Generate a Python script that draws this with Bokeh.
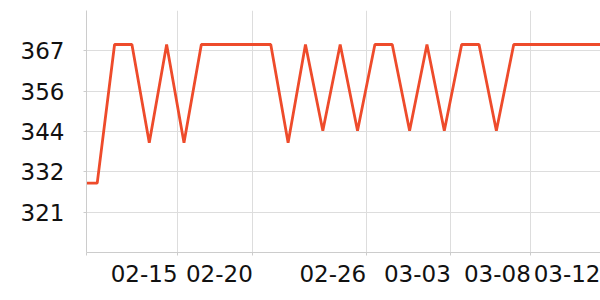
import pandas as pd
from bokeh.plotting import figure
from bokeh.models import Range1d, FixedTicker, DatetimeAxis
from bokeh.embed import file_html
from bokeh.resources import INLINE

# ---- data ----
dates = [
    "2023-02-10", "2023-02-11", "2023-02-12", "2023-02-13", "2023-02-14",
    "2023-02-15", "2023-02-16", "2023-02-17", "2023-02-18", "2023-02-19",
    "2023-02-20", "2023-02-21", "2023-02-22", "2023-02-23", "2023-02-24",
    "2023-02-25", "2023-02-26", "2023-02-27", "2023-02-28", "2023-03-01",
    "2023-03-02", "2023-03-03", "2023-03-04", "2023-03-05", "2023-03-06",
    "2023-03-07", "2023-03-08", "2023-03-09", "2023-03-10", "2023-03-11",
    "2023-03-12",
]
values = [
    329.3, 329.3, 368.8, 368.8, 340.8, 368.8, 340.8, 368.8, 368.8, 368.8,
    368.8, 368.8, 340.8, 368.8, 344.2, 368.8, 344.2, 368.8, 368.8, 344.2,
    368.8, 344.2, 368.8, 368.8, 344.2, 368.8, 368.8, 368.8, 368.8, 368.8,
    368.8,
]
x_tick_times = [
    "2023-02-10 09:11", "2023-02-15 15:03", "2023-02-19 23:11",
    "2023-02-26 12:00", "2023-03-03 08:58", "2023-03-07 23:37",
    "2023-03-12 00:00",
]
x_tick_labels = ["", "02-15", "02-20", "02-26", "03-03", "03-08", "03-12"]
y_ticks = [321.0, 332.5, 344.0, 355.5, 367.0]
y_tick_labels = ["321", "332", "344", "356", "367"]
x_start, x_end = "2023-02-10 09:11", "2023-03-12 00:00"
y_start, y_end = 309.5, 378.5

# ---- build ----
def ms(s):
    return float(pd.Timestamp(s).value // 10**6)

xs = [pd.Timestamp(d) for d in dates]
xt = [ms(t) for t in x_tick_times]

W, H = 600, 300
LEFT, TOP, BOTTOM = 86, 10, 48
FONT_PX = 23
frame_w = W - LEFT

x0, x1 = ms(x_start), ms(x_end)
p = figure(width=W, height=H, x_axis_type="datetime",
           output_backend="svg", toolbar_location=None,
           x_range=Range1d(x0, x1),
           y_range=Range1d(y_start, y_end),
           min_border_left=LEFT, min_border_right=0,
           min_border_top=TOP, min_border_bottom=BOTTOM)
p.outline_line_color = None
p.background_fill_color = "white"
p.border_fill_color = "white"

p.line(xs, values, line_color="#ee4b2b", line_width=2.8)

# axis carrying the tick marks at the true positions (no labels)
p.xaxis.ticker = FixedTicker(ticks=xt)
p.xaxis.major_label_overrides = {t: "" for t in xt}
p.xaxis.major_label_text_font_size = "1px"
p.xaxis.major_label_standoff = 0

p.yaxis.ticker = FixedTicker(ticks=y_ticks)
p.yaxis.major_label_overrides = dict(zip(y_ticks, y_tick_labels))

for ax in (p.xaxis[0], p.yaxis[0]):
    ax.axis_line_color = "#cccccc"
    ax.major_tick_line_color = "#cccccc"
    ax.minor_tick_line_color = None
    ax.major_tick_in = 0
    ax.major_tick_out = 3
    ax.major_label_text_font = "DejaVu Sans"
    ax.major_label_text_color = "#111111"
p.yaxis.major_label_text_font_size = f"{FONT_PX}px"
p.yaxis.major_label_standoff = 19

# second axis: labels right-aligned to their ticks (shift by half the width)
char_em = {"-": 0.361}
ms_per_px = (x1 - x0) / frame_w
shifted, labels = [], {}
for t, lab in zip(xt, x_tick_labels):
    if not lab:
        continue
    w_px = sum(char_em.get(c, 0.636) for c in lab) * FONT_PX
    s = t - (w_px / 2) * ms_per_px
    shifted.append(s)
    labels[s] = lab
lab_axis = DatetimeAxis(ticker=FixedTicker(ticks=shifted),
                        major_label_overrides=labels,
                        axis_line_color=None, major_tick_line_color=None,
                        minor_tick_line_color=None,
                        major_tick_in=0, major_tick_out=0,
                        major_label_standoff=9,
                        major_label_text_font="DejaVu Sans",
                        major_label_text_font_size=f"{FONT_PX}px",
                        major_label_text_color="#111111")
p.add_layout(lab_axis, "below")

p.xgrid.ticker = FixedTicker(ticks=xt)
p.ygrid.ticker = FixedTicker(ticks=y_ticks)
p.grid.grid_line_color = "#dddddd"

open("out.html", "w").write(file_html(p, INLINE))
